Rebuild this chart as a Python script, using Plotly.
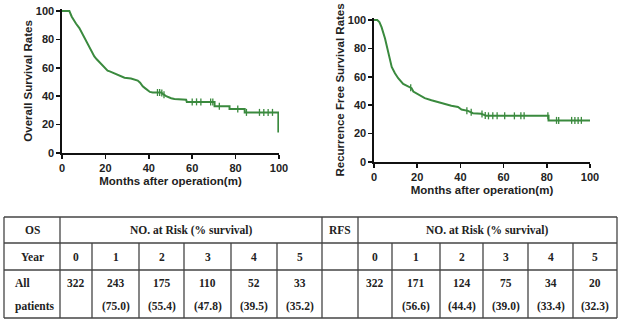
import numpy as np
import plotly.graph_objects as go

# ---------------- data ----------------
os_months = [0, 3.4, 4.5, 5.5, 6.5, 8, 9, 10.3, 11.5, 12.6, 13.8, 14.9, 16, 17.2, 18.4, 19.5,
             21, 22, 24.2, 26.5, 28.8, 31.8, 34.9, 36, 37.2, 38.4, 39.5, 40.5, 41.8, 45.7,
             46.5, 48, 50.3, 51.8, 57.2, 57.5, 70.3, 70.3, 77.2, 77.2, 84.2, 84.2, 99.7, 99.7]
os_surv = [100, 100, 96, 93, 91, 88, 85, 81, 77.5, 74.5, 71, 68, 66, 64, 62, 60,
           58, 57.5, 56, 54.5, 53, 52.5, 51, 49.5, 47, 45.5, 44, 43, 42.6, 42.6,
           41.5, 40, 38.6, 38, 37.5, 36, 36, 33, 33, 31, 31, 28.6, 28.6, 14.5]
os_censor = [44, 45, 46, 47, 60, 62, 64, 68.5, 69.5, 72.5, 81, 85, 91, 93, 95, 97]

rfs_months = [0, 1.5, 2.5, 3.5, 5.1, 6.6, 8.2, 9.7, 11.2, 13.5, 15.8, 17.4, 18.2, 20.5, 23.5,
              26.6, 29.7, 32.8, 35.8, 38.9, 40.5, 43.5, 45.8, 49.7, 52, 80.8, 80.8, 100]
rfs_surv = [100, 100, 98.5, 95, 87, 76.5, 67, 62.5, 59, 55, 53, 52, 49.6, 47.4, 45,
            43.5, 42, 41, 39.6, 38.7, 37, 36, 34.4, 34, 32.5, 32.5, 29.3, 29.3]
rfs_censor = [17, 43, 45, 50, 51.5, 53, 55, 57, 60.5, 65, 68, 69.5, 80.5, 84.5, 85.5,
              91.5, 93, 94.5, 96]

x_ticks = [0, 20, 40, 60, 80, 100]
y_ticks = [0, 20, 40, 60, 80, 100]

years = ["0", "1", "2", "3", "4", "5"]
os_at_risk = ["322", "243", "175", "110", "52", "33"]
os_pct = ["", "(75.0)", "(55.4)", "(47.8)", "(39.5)", "(35.2)"]
rfs_at_risk = ["322", "171", "124", "75", "34", "20"]
rfs_pct = ["", "(56.6)", "(44.4)", "(39.0)", "(33.4)", "(32.3)"]

# ---------------- layout helpers ----------------
W, H = 624, 322
GREEN = "#3a8a3e"


def px(x):
    return x / W


def py(y):
    return 1 - y / H


def step_val(t, months, surv):
    return float(np.interp(t, months, surv))


fig = go.Figure()

for months, surv, cens, xa, ya in [
    (os_months, os_surv, os_censor, "x", "y"),
    (rfs_months, rfs_surv, rfs_censor, "x2", "y2"),
]:
    fig.add_trace(go.Scatter(x=months, y=surv, mode="lines", xaxis=xa, yaxis=ya,
                             line=dict(color=GREEN, width=2), showlegend=False,
                             hoverinfo="skip"))
    fig.add_trace(go.Scatter(x=cens, y=[step_val(c, months, surv) for c in cens],
                             mode="markers", xaxis=xa, yaxis=ya, showlegend=False,
                             marker=dict(symbol="line-ns-open", size=5, color=GREEN,
                                         line=dict(color=GREEN, width=1.3)),
                             hoverinfo="skip", cliponaxis=False))

YTOP = 101.5


def y_domain(y0_px, y100_px):
    per = (y0_px - y100_px) / 100.0
    top_px = y0_px - per * YTOP
    return [py(y0_px), py(top_px)]


tickfont = dict(family="Liberation Sans", size=11, color="#222", weight="bold")
titlefont = dict(family="Liberation Sans", size=11.5, color="#222", weight="bold")

axis_common = dict(showline=True, linecolor="#111", linewidth=1.6, ticks="outside",
                   ticklen=4, tickwidth=1.6, tickcolor="#111", showgrid=False,
                   zeroline=False, tickfont=tickfont, automargin=False)

fig.update_layout(
    template="none",
    width=W, height=H, margin=dict(l=0, r=0, t=0, b=0, pad=0),
    paper_bgcolor="white", plot_bgcolor="white",
    xaxis=dict(domain=[px(62), px(279)], range=[0, 100], tickvals=x_ticks,
               anchor="y", title=dict(text="Months after operation(m)", font=titlefont,
                                      standoff=4), **axis_common),
    yaxis=dict(domain=y_domain(153, 11), range=[0, YTOP], tickvals=y_ticks,
               anchor="x", title=dict(text="Overall Survival Rates", font=titlefont,
                                      standoff=1), **axis_common),
    xaxis2=dict(domain=[px(374), px(590)], range=[0, 100], tickvals=x_ticks,
                anchor="y2", title=dict(text="Months after operation(m)", font=titlefont,
                                        standoff=4), **axis_common),
    yaxis2=dict(domain=y_domain(162, 20), range=[0, YTOP], tickvals=y_ticks,
                anchor="x2", title=dict(text="Recurrence Free Survival Rates",
                                        font=titlefont, standoff=1), **axis_common),
)

# ---------------- table ----------------
col_edges = [4, 60, 92, 139, 184, 231, 277, 322, 358, 392, 440, 483, 528, 573, 617]
row_edges = [217, 243, 270, 318]
line_color = "#444"
lw = 1.3

shapes = []


def hline(x0, x1, y):
    shapes.append(dict(type="line", xref="paper", yref="paper", x0=px(x0), x1=px(x1),
                       y0=py(y), y1=py(y), line=dict(color=line_color, width=lw)))


def vline(x, y0, y1):
    shapes.append(dict(type="line", xref="paper", yref="paper", x0=px(x), x1=px(x),
                       y0=py(y0), y1=py(y1), line=dict(color=line_color, width=lw)))


for y in row_edges:
    hline(col_edges[0], col_edges[-1], y)
for i in [0, 1, 7, 8, len(col_edges) - 1]:
    vline(col_edges[i], row_edges[0], row_edges[-1])
for i in list(range(2, 7)) + list(range(9, 14)):
    vline(col_edges[i], row_edges[1], row_edges[-1])

tfont = dict(family="Liberation Serif", size=11.5, color="#222", weight="bold")
ann = []


def text(x, y, s, xanchor="center"):
    ann.append(dict(xref="paper", yref="paper", x=px(x), y=py(y), text=s,
                    showarrow=False, font=tfont, xanchor=xanchor, yanchor="middle"))


def cx(i):
    return (col_edges[i] + col_edges[i + 1]) / 2


r1 = (row_edges[0] + row_edges[1]) / 2
r2 = (row_edges[1] + row_edges[2]) / 2
r3a, r3b = 283, 306

text(cx(0), r1, "OS")
text((col_edges[1] + col_edges[7]) / 2, r1, "NO. at Risk (% survival)")
text(cx(7), r1, "RFS")
text((col_edges[8] + col_edges[14]) / 2, r1, "NO. at Risk (% survival)")
text(cx(0), r2, "Year")
text(13, r3a, "All", xanchor="left")
text(13, r3b, "patients", xanchor="left")

for k in range(6):
    text(cx(1 + k), r2, years[k])
    text(cx(8 + k), r2, years[k])
    text(cx(1 + k), r3a, os_at_risk[k])
    text(cx(8 + k), r3a, rfs_at_risk[k])
    if os_pct[k]:
        text(cx(1 + k), r3b, os_pct[k])
    if rfs_pct[k]:
        text(cx(8 + k), r3b, rfs_pct[k])

fig.update_layout(shapes=shapes, annotations=ann)

fig.write_html("out.html",
               config={"displayModeBar": False, "staticPlot": True},
               post_script="document.body.style.margin='0';"
                           "document.body.style.overflow='hidden';")
